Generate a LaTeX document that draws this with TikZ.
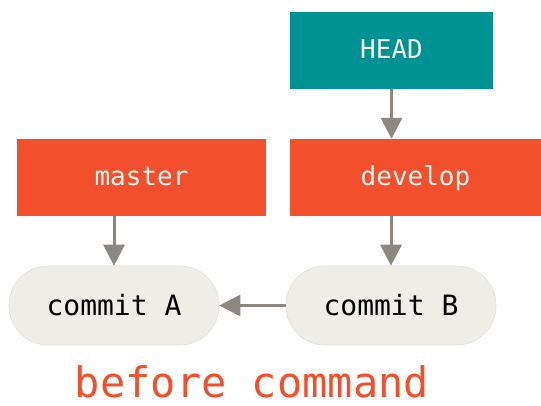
\documentclass[tikz,border=0pt]{standalone}
\usepackage{fontspec}
\setmonofont{DejaVu Sans Mono}
\usetikzlibrary{arrows.meta}
\definecolor{headcol}{RGB}{0,145,147}
\definecolor{branchcol}{RGB}{242,79,44}
\definecolor{commitcol}{RGB}{238,237,231}
\definecolor{commitline}{RGB}{226,224,218}
\definecolor{arrowcol}{RGB}{140,135,128}
\definecolor{labelcol}{RGB}{244,244,240}
\tikzset{
  refbox/.style={minimum height=77pt, inner sep=0pt, text=labelcol,
    text height=21pt, text depth=5pt,
    font=\ttfamily\fontsize{26}{30}\selectfont},
  commitbox/.style={fill=commitcol, draw=commitline, line width=0.6pt,
    rounded corners=39pt, minimum width=210pt, minimum height=79pt,
    inner sep=0pt, font=\ttfamily\fontsize{28}{32}\selectfont},
  link/.style={draw=arrowcol, line width=3pt,
    -{Triangle[length=21pt,width=21pt]}}
}
\begin{document}
\begin{tikzpicture}[x=1pt, y=1pt]
        \useasboundingbox (0,0) rectangle (541,406);
        \node[refbox, fill=headcol, minimum width=203pt] (head) at (391.5,355.5) {HEAD};
        \node[refbox, fill=branchcol, minimum width=249pt] (master) at (141.5,228.5) {master};
        \node[refbox, fill=branchcol, minimum width=251pt] (develop) at (415.5,228.5) {develop};
        \node[commitbox] (commitA) at (114,100.5) {commit A};
        \node[commitbox] (commitB) at (391,100.5) {commit B};
        \node[anchor=base, inner sep=0pt, text=branchcol, font=\ttfamily\fontsize{42}{46}\selectfont]
            (caption) at (252,8) {before command};
        \draw[link] (head) -- (develop.north -| head);
        \draw[link] (master.south -| commitA) -- (commitA);
        \draw[link] (develop.south -| commitB) -- (commitB);
        \draw[link] (commitB) -- (commitA);
    \end{tikzpicture}
\end{document}
